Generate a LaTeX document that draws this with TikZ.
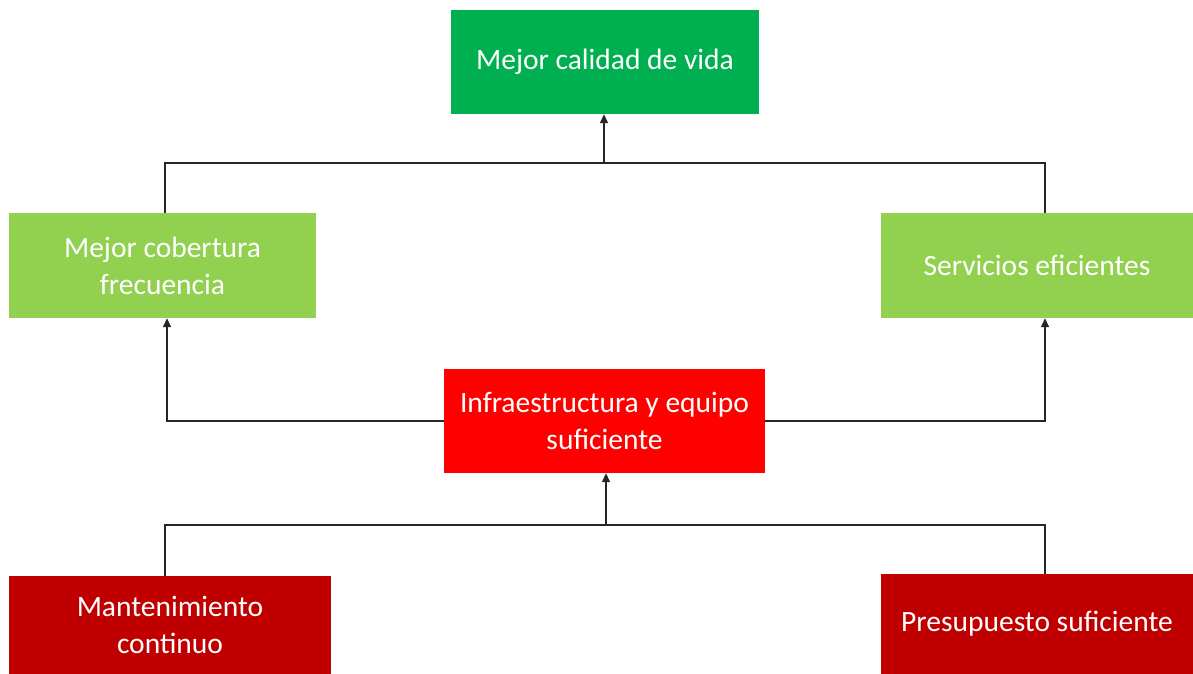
\documentclass[tikz,border=0pt]{standalone}
\usepackage{fontspec}
\setmainfont{Carlito}
\usetikzlibrary{arrows.meta}
\definecolor{dgreen}{HTML}{00B050}
\definecolor{lgreen}{HTML}{92D050}
\definecolor{bred}{HTML}{FF0000}
\definecolor{dred}{HTML}{C00000}
\begin{document}
\begin{tikzpicture}[x=1pt,y=-1pt,
  box/.style={rectangle,inner sep=0pt,text=white,align=center,font=\fontsize{29.5}{37}\selectfont},
  conn/.style={line width=1.4pt,draw=black!85},
  arr/.style={conn,-{Triangle[length=9pt,width=8pt]}}]
\useasboundingbox (0,0) rectangle (1193,674);
\fill[white] (0,0) rectangle (1193,674);
\node[box,fill=dgreen,minimum width=308pt,minimum height=104pt] (top) at (605,62) {Mejor calidad de vida};
\node[box,fill=lgreen,minimum width=307pt,minimum height=105pt] (cob) at (162.5,265.5) {Mejor cobertura\\frecuencia};
\node[box,fill=lgreen,minimum width=312pt,minimum height=105pt] (serv) at (1037,265.5) {Servicios eficientes};
\node[box,fill=bred,minimum width=321pt,minimum height=104pt] (inf) at (604.5,421) {Infraestructura y equipo\\suficiente};
\node[box,fill=dred,minimum width=322pt,minimum height=98pt] (man) at (170,625) {Mantenimiento\\continuo};
\node[box,fill=dred,minimum width=312pt,minimum height=100pt] (pre) at (1037,624) {Presupuesto suficiente};
\coordinate (t1) at (604,163);
\coordinate (b1) at (606,525);
% top tree
\draw[conn] (cob.north -| 165,0) |- (t1) -| (serv.north -| 1045,0);
\draw[arr] (t1) -- (top.south -| t1);
% middle
\draw[arr] (inf.west) -| (cob.south -| 167,0);
\draw[arr] (inf.east) -| (serv.south -| 1045,0);
% bottom tree
\draw[conn] (man.north -| 165,0) |- (b1) -| (pre.north -| 1045,0);
\draw[arr] (b1) -- (inf.south -| b1);
\end{tikzpicture}
\end{document}
